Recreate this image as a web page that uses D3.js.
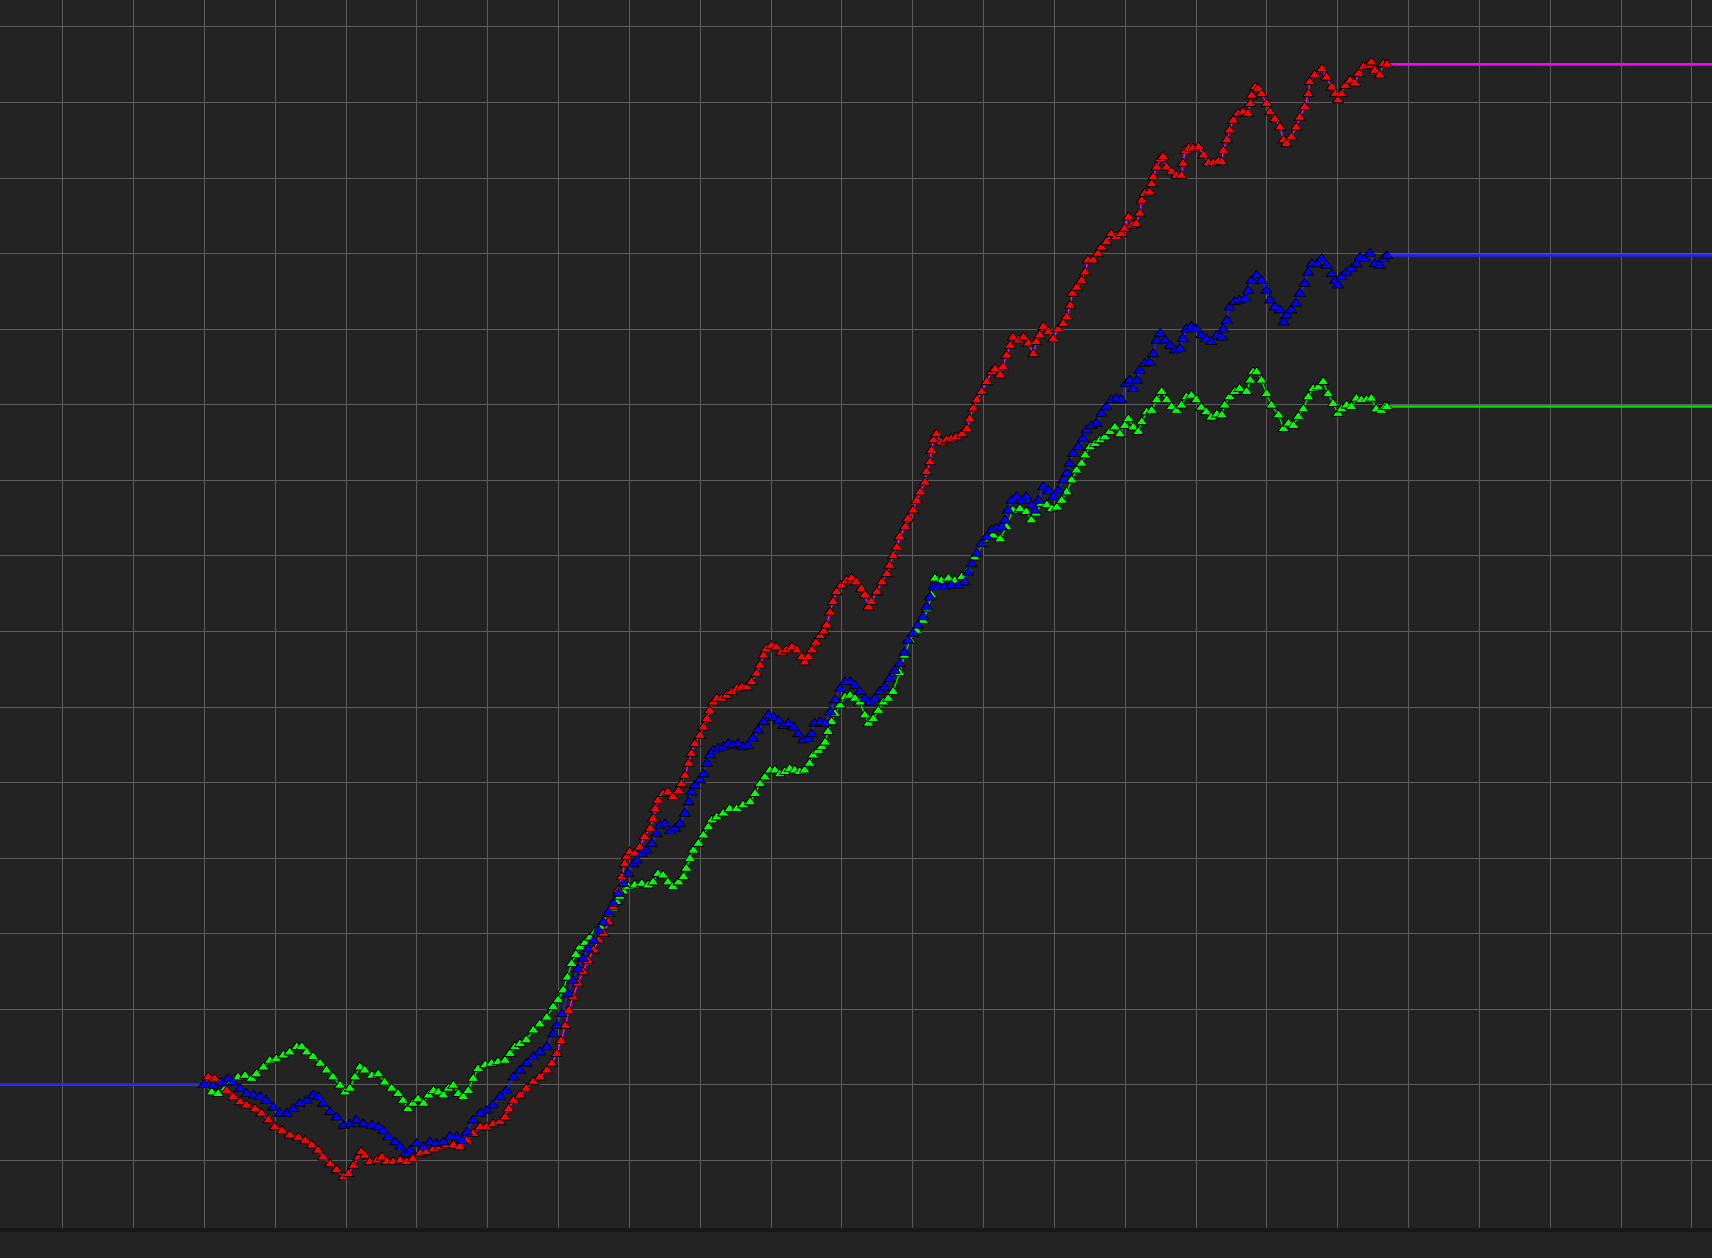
<!DOCTYPE html>
<html>
<head>
<meta charset="utf-8">
<script src="https://cdn.jsdelivr.net/npm/d3@7"></script>
<style>
  html, body { margin: 0; padding: 0; background: #232323; }
  svg { display: block; }
</style>
</head>
<body>
<script>
// ---- DATA (trade number, profit) ----
const xDomain = [-288, 2129];
const yDomain = [-190, 1435];
const xTicks = d3.range(-200, 2101, 100);
const yTicks = d3.range(-100, 1401, 100);

const redSeries = [[0,0],[6,10],[15,8],[22,2],[32,-8],[41,-16],[51,-23],[60,-27],[72,-32],[81,-38],[91,-47],[100,-56],[110,-61],[121,-67],[133,-70],[143,-74],[152,-80],[161,-87],[168,-96],[178,-105],[187,-113],[197,-122],[204,-118],[211,-107],[218,-96],[222,-89],[227,-94],[234,-102],[244,-100],[251,-96],[258,-102],[267,-102],[277,-100],[286,-102],[295,-98],[305,-91],[314,-89],[324,-85],[333,-82],[342,-80],[352,-80],[361,-82],[371,-74],[380,-65],[390,-56],[399,-56],[408,-52],[418,-49],[425,-43],[430,-32],[437,-21],[446,-14],[455,-5],[465,4],[474,10],[484,19],[491,28],[498,41],[504,58],[510,78],[515,98],[521,116],[528,134],[535,149],[542,164],[550,178],[557,191],[564,200],[571,215],[578,235],[585,257],[590,275],[594,292],[597,302],[601,308],[608,306],[615,314],[622,328],[630,339],[634,352],[637,365],[641,376],[648,385],[655,387],[662,381],[670,389],[674,398],[679,409],[684,425],[688,438],[693,451],[700,462],[705,473],[710,484],[714,495],[719,506],[724,511],[731,511],[738,515],[745,520],[752,524],[759,526],[766,526],[773,533],[780,544],[785,555],[790,568],[794,577],[801,581],[808,579],[815,572],[822,575],[830,579],[837,575],[844,566],[848,559],[853,566],[858,575],[864,585],[870,594],[875,600],[879,608],[884,625],[888,639],[893,652],[900,661],[907,667],[914,670],[921,665],[928,656],[933,648],[938,632],[942,639],[950,652],[957,665],[964,676],[968,687],[973,700],[978,711],[982,725],[990,738],[994,749],[1001,760],[1006,773],[1011,784],[1018,797],[1020,811],[1025,824],[1027,839],[1030,853],[1034,861],[1041,850],[1048,853],[1055,855],[1062,857],[1070,861],[1077,868],[1081,881],[1086,895],[1091,906],[1098,917],[1105,930],[1112,943],[1117,947],[1124,939],[1128,950],[1133,965],[1138,978],[1142,989],[1150,985],[1157,989],[1164,981],[1171,967],[1175,983],[1180,992],[1185,1003],[1192,996],[1199,987],[1206,1000],[1213,1007],[1218,1016],[1223,1031],[1226,1047],[1232,1055],[1239,1064],[1244,1075],[1248,1091],[1255,1091],[1262,1100],[1267,1108],[1274,1115],[1281,1126],[1288,1122],[1295,1126],[1300,1133],[1305,1148],[1310,1137],[1316,1139],[1321,1153],[1324,1170],[1328,1179],[1335,1181],[1338,1192],[1340,1201],[1345,1214],[1350,1225],[1354,1228],[1359,1214],[1366,1208],[1373,1203],[1380,1203],[1382,1219],[1385,1236],[1390,1239],[1396,1239],[1404,1241],[1411,1230],[1418,1220],[1425,1220],[1432,1222],[1437,1221],[1439,1236],[1444,1250],[1448,1263],[1453,1276],[1460,1285],[1467,1287],[1474,1285],[1477,1298],[1479,1309],[1484,1320],[1488,1318],[1493,1311],[1500,1298],[1505,1287],[1512,1278],[1519,1267],[1524,1250],[1528,1245],[1535,1254],[1542,1267],[1547,1280],[1554,1294],[1559,1311],[1561,1327],[1568,1336],[1578,1344],[1585,1333],[1592,1320],[1597,1311],[1601,1303],[1606,1311],[1611,1322],[1618,1329],[1625,1325],[1630,1338],[1637,1347],[1644,1349],[1648,1353],[1653,1342],[1660,1336],[1665,1351],[1670,1350]];

const blueSeries = [[0,0],[13,-1],[25,3],[34,8],[41,3],[51,-5],[60,-12],[70,-14],[79,-16],[88,-21],[98,-30],[107,-38],[117,-38],[126,-32],[135,-25],[145,-21],[154,-14],[161,-16],[168,-25],[178,-36],[187,-43],[197,-54],[206,-52],[215,-47],[225,-52],[237,-54],[246,-56],[253,-61],[260,-69],[270,-76],[277,-82],[284,-91],[291,-87],[300,-78],[310,-82],[319,-76],[328,-78],[338,-76],[347,-69],[357,-69],[364,-74],[371,-63],[380,-47],[390,-38],[399,-34],[408,-27],[418,-16],[427,-8],[437,10],[446,19],[455,28],[465,37],[474,43],[484,50],[493,67],[498,78],[505,94],[514,120],[521,138],[528,153],[535,167],[542,180],[550,191],[557,204],[564,215],[571,228],[578,240],[585,253],[592,266],[599,279],[606,292],[611,297],[618,306],[625,310],[632,319],[639,332],[644,343],[651,345],[658,336],[665,339],[672,345],[679,359],[684,374],[688,387],[693,396],[700,403],[705,411],[710,425],[714,436],[719,442],[726,445],[733,447],[740,451],[747,449],[754,451],[761,447],[768,449],[775,458],[782,469],[790,480],[797,489],[804,486],[811,482],[818,475],[825,478],[832,473],[839,464],[846,456],[853,458],[858,464],[862,478],[870,480],[877,478],[884,493],[891,509],[898,524],[905,533],[912,533],[919,528],[926,520],[933,511],[940,506],[947,511],[954,520],[961,526],[968,537],[975,548],[982,557],[989,572],[994,588],[1001,597],[1008,608],[1015,619],[1020,632],[1025,645],[1030,659],[1037,659],[1046,659],[1055,661],[1065,661],[1074,665],[1079,678],[1084,689],[1091,703],[1098,716],[1105,725],[1112,734],[1119,736],[1126,738],[1131,747],[1135,760],[1140,773],[1147,778],[1154,773],[1161,778],[1168,767],[1173,760],[1178,773],[1185,791],[1192,786],[1199,778],[1206,786],[1213,800],[1218,809],[1222,822],[1227,835],[1234,844],[1241,855],[1246,866],[1253,872],[1260,875],[1267,888],[1274,897],[1281,906],[1288,908],[1295,906],[1302,928],[1307,932],[1312,921],[1317,932],[1321,945],[1328,954],[1335,956],[1340,967],[1345,985],[1350,994],[1357,985],[1364,978],[1371,972],[1378,974],[1382,987],[1387,1000],[1394,1003],[1401,1000],[1408,992],[1415,987],[1422,983],[1430,991],[1437,989],[1439,1000],[1444,1011],[1448,1029],[1455,1036],[1462,1038],[1470,1040],[1474,1051],[1479,1064],[1486,1071],[1493,1064],[1500,1051],[1505,1038],[1512,1029],[1519,1025],[1524,1009],[1528,1018],[1535,1025],[1542,1034],[1547,1047],[1554,1060],[1559,1075],[1564,1086],[1571,1086],[1578,1093],[1585,1084],[1592,1073],[1597,1064],[1601,1058],[1606,1069],[1613,1075],[1620,1080],[1627,1086],[1632,1095],[1639,1093],[1646,1100],[1653,1086],[1660,1084],[1665,1093],[1670,1097]];

const greenSeries = [[0,0],[11,-10],[20,-12],[30,-5],[39,4],[48,10],[58,12],[67,8],[74,14],[84,23],[93,32],[102,34],[112,39],[121,43],[131,50],[138,50],[145,43],[154,37],[164,28],[173,19],[182,10],[192,-1],[199,-10],[206,-5],[213,10],[220,23],[227,19],[237,12],[246,14],[255,3],[265,-5],[274,-12],[281,-21],[288,-32],[295,-25],[302,-19],[310,-25],[317,-14],[324,-8],[331,-10],[338,-14],[345,-5],[352,-1],[359,-12],[366,-16],[373,-8],[380,8],[387,21],[397,26],[406,28],[415,30],[425,32],[432,41],[439,50],[446,54],[455,59],[465,72],[474,80],[484,89],[493,103],[500,112],[507,125],[513,142],[519,160],[525,172],[531,182],[538,188],[545,195],[552,202],[559,209],[566,217],[573,226],[578,233],[582,242],[587,249],[592,256],[599,262],[608,264],[618,266],[627,264],[634,268],[641,279],[648,277],[655,268],[662,262],[670,268],[677,275],[681,286],[686,299],[691,310],[698,319],[705,330],[712,341],[717,350],[724,354],[733,359],[742,365],[752,365],[761,370],[771,374],[778,385],[785,398],[792,407],[799,416],[806,416],[813,411],[820,414],[827,418],[834,416],[841,414],[848,416],[855,425],[860,436],[867,442],[872,447],[877,453],[881,467],[886,480],[891,491],[898,502],[905,513],[912,515],[919,511],[926,506],[933,489],[938,478],[945,484],[952,495],[959,506],[966,511],[973,520],[982,545],[989,568],[997,588],[1006,601],[1015,614],[1022,630],[1027,648],[1032,670],[1041,667],[1051,670],[1060,667],[1070,672],[1079,681],[1088,698],[1100,716],[1114,727],[1124,722],[1133,738],[1142,760],[1152,762],[1161,758],[1168,747],[1175,756],[1182,769],[1190,767],[1197,762],[1204,764],[1211,773],[1218,784],[1225,800],[1232,813],[1239,822],[1244,833],[1251,844],[1258,848],[1265,853],[1272,857],[1279,864],[1286,870],[1293,861],[1300,872],[1305,881],[1312,870],[1319,864],[1324,877],[1331,890],[1338,892],[1345,906],[1352,917],[1359,906],[1366,897],[1373,892],[1380,899],[1387,910],[1394,912],[1401,906],[1408,896],[1415,890],[1422,883],[1430,887],[1437,886],[1441,899],[1448,910],[1455,917],[1462,921],[1472,917],[1477,932],[1481,943],[1486,943],[1493,932],[1500,914],[1507,899],[1517,886],[1524,868],[1531,875],[1538,872],[1545,884],[1552,894],[1559,910],[1566,921],[1573,923],[1580,930],[1587,914],[1594,901],[1601,888],[1606,894],[1613,899],[1620,897],[1627,908],[1634,906],[1641,906],[1648,908],[1655,894],[1662,892],[1667,897],[1670,897]];

// ---- STYLE ----
const W = 1712, H = 1258, plotH = 1228;
const series = [
  { name: "green", data: greenSeries, line: "#00dd00", fill: "#00ff00" },
  { name: "red",   data: redSeries,   line: "#ff00ff", fill: "#ff0000" },
  { name: "blue",  data: blueSeries,  line: "#2424ee", fill: "#0000ff" }
];

const svg = d3.select("body").append("svg").attr("width", W).attr("height", H);
svg.append("rect").attr("width", W).attr("height", H).attr("fill", "#232323");

const x = d3.scaleLinear().domain(xDomain).range([0, W]);
const y = d3.scaleLinear().domain(yDomain).range([plotH, 0]);

// grid
const grid = svg.append("g").attr("shape-rendering", "crispEdges");
grid.selectAll("line.v").data(xTicks).join("line")
  .attr("x1", d => Math.round(x(d)) + 0.5).attr("x2", d => Math.round(x(d)) + 0.5)
  .attr("y1", 0).attr("y2", plotH)
  .attr("stroke", "#5c5c5c").attr("stroke-width", 1);
grid.selectAll("line.h").data(yTicks).join("line")
  .attr("y1", d => Math.round(y(d)) + 0.5).attr("y2", d => Math.round(y(d)) + 0.5)
  .attr("x1", 0).attr("x2", W)
  .attr("stroke", "#5c5c5c").attr("stroke-width", 1);

// bottom separator band
svg.append("rect").attr("x", 0).attr("y", plotH).attr("width", W).attr("height", 4).attr("fill", "#181818");

svg.append("defs").append("clipPath").attr("id", "plot")
  .append("rect").attr("width", W).attr("height", plotH);
const plot = svg.append("g").attr("clip-path", "url(#plot)");

const lineGen = d3.line().x(d => x(d[0])).y(d => y(d[1]));

// flat extensions before start and after end
series.forEach(s => {
  const first = s.data[0], last = s.data[s.data.length - 1];
  plot.append("path").datum([[xDomain[0], first[1]], first])
    .attr("d", lineGen).attr("fill", "none")
    .attr("stroke", s.line).attr("stroke-width", 2.6);
  plot.append("path").datum([last, [xDomain[1], last[1]]])
    .attr("d", lineGen).attr("fill", "none")
    .attr("stroke", s.line).attr("stroke-width", 2.6);
});
// connecting lines (mostly hidden by markers)
series.forEach(s => {
  plot.append("path").datum(s.data)
    .attr("d", lineGen).attr("fill", "none")
    .attr("stroke", s.line).attr("stroke-width", 1.4);
});

// flattened triangle markers
const tri = {
  draw(ctx, size) {
    const w = Math.sqrt(size) * 0.78, h = Math.sqrt(size) * 1.1;
    ctx.moveTo(0, -h * 0.62);
    ctx.lineTo(w, h * 0.38);
    ctx.lineTo(-w, h * 0.38);
    ctx.closePath();
  }
};
const sym = d3.symbol().type(tri).size(52);
series.forEach(s => {
  plot.append("g").selectAll("path").data(s.data).join("path")
    .attr("transform", d => `translate(${x(d[0])},${y(d[1])})`)
    .attr("d", sym)
    .attr("fill", s.fill)
    .attr("stroke", "#000")
    .attr("stroke-width", 1);
});
</script>
</body>
</html>
